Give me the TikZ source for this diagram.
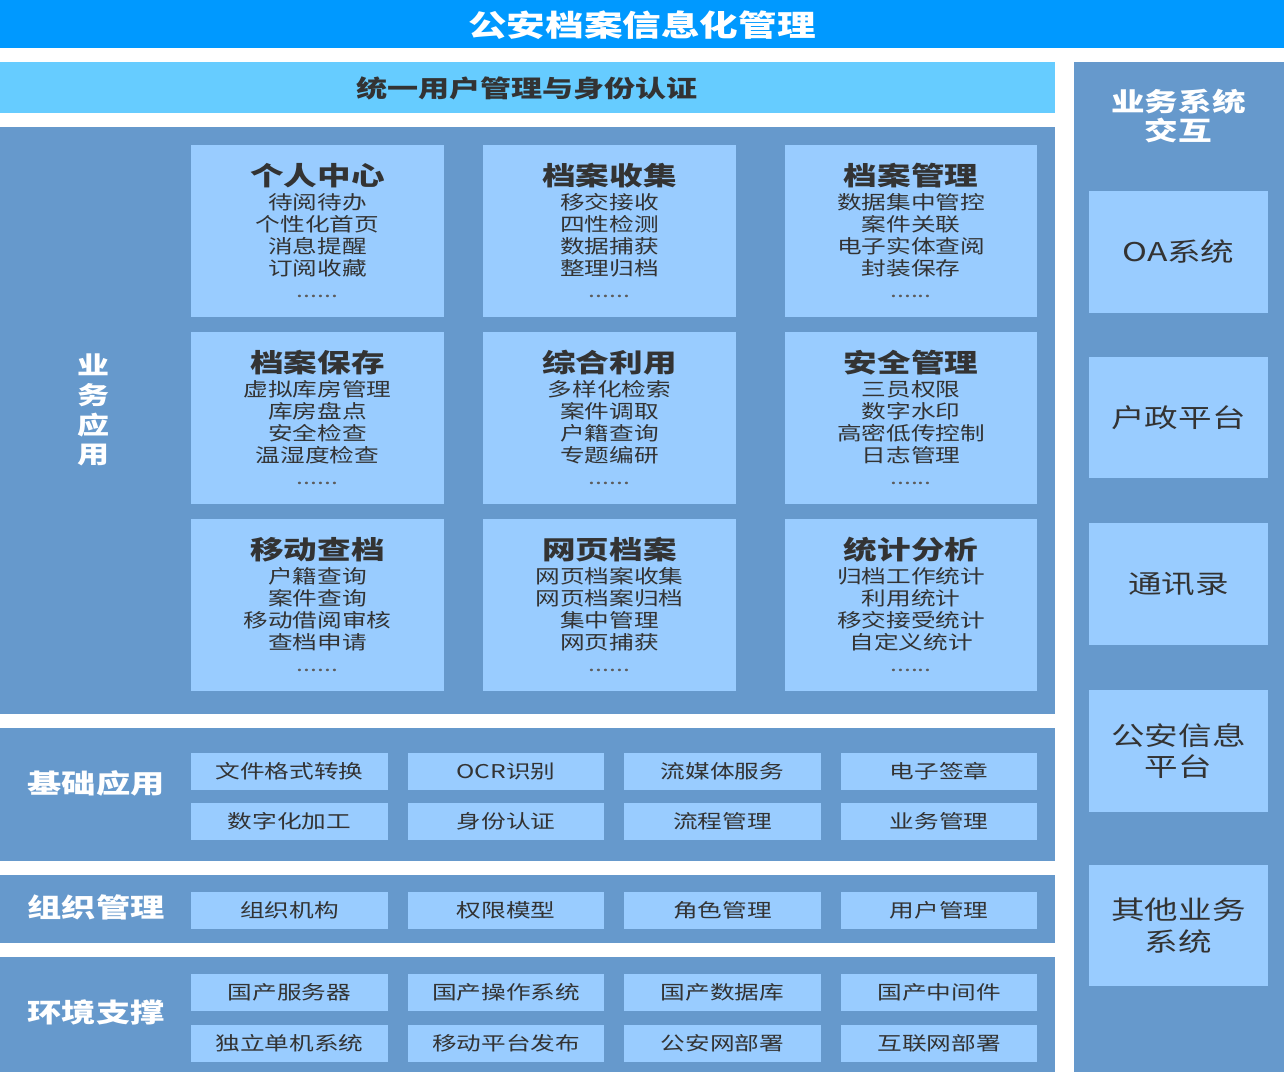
\documentclass[tikz,border=0pt]{standalone}
\usepackage{fontspec}
\setmainfont[FakeStretch=1.3]{Noto Sans CJK SC}
\usetikzlibrary{positioning}

\definecolor{topblue}{HTML}{0099FF}
\definecolor{bandblue}{HTML}{66CCFF}
\definecolor{panelblue}{HTML}{6699CC}
\definecolor{cardblue}{HTML}{99CCFF}
\definecolor{inkgray}{HTML}{333333}

\newcommand{\headfont}{\fontsize{16.9pt}{18pt}\bfseries\selectfont}
\newcommand{\bandfont}{\fontsize{13.6pt}{15pt}\bfseries\selectfont}
\newcommand{\cardtitlefont}{\fontsize{14.7pt}{16pt}\bfseries\selectfont}
\newcommand{\itemfont}{\fontsize{10.8pt}{12.47pt}\selectfont}
\newcommand{\sidefont}{\fontsize{14.7pt}{18pt}\selectfont}
\newcommand{\labelfont}{\fontsize{15pt}{16.5pt}\bfseries\selectfont}

\tikzset{
  card/.style={fill=cardblue, minimum width=5.06cm, minimum height=3.44cm, inner sep=0pt},
  cardhead/.style={text=inkgray, font=\cardtitlefont, inner sep=0pt},
  carditems/.style={text=inkgray, font=\itemfont, align=center, inner sep=0pt},
  carddots/.style={text=inkgray!80, font=\itemfont, inner sep=0pt},
  basebox/.style={fill=cardblue, minimum width=3.94cm, minimum height=0.74cm, inner sep=0pt, text=inkgray, font=\itemfont},
  sidebox/.style={fill=cardblue, minimum width=3.58cm, minimum height=2.43cm, inner sep=0pt, text=inkgray, font=\sidefont, align=center},
  layerlabel/.style={text=white, font=\labelfont, align=center, inner sep=0pt}
}

\begin{document}
\begin{tikzpicture}[x=0.02cm, y=-0.02cm]

\useasboundingbox (0,0) rectangle (1284,1072);
\fill[white] (0,0) rectangle (1284,1072);

% top bar and user band
\fill[topblue] (0,0) rectangle (1284,48);
\node (title) at (642,25) [text=white, font=\headfont] {公安档案信息化管理};
\fill[bandblue] (0,62) rectangle (1055,113);
\node (auth) at (527,88) [text=inkgray, font=\bandfont] {统一用户管理与身份认证};

% layers
\fill[panelblue] (0,127) rectangle (1055,714);
\fill[panelblue] (0,728) rectangle (1055,861);
\fill[panelblue] (0,875) rectangle (1055,943);
\fill[panelblue] (0,957) rectangle (1055,1072);
\fill[panelblue] (1074,62) rectangle (1284,1072);

\node (yewu) at (93,410) [layerlabel, font=\fontsize{14pt}{17pt}\bfseries\selectfont] {业\\务\\应\\用};
\node (jichu) at (96,783) [layerlabel] {基础应用};
\node (zuzhi) at (96,907) [layerlabel] {组织管理};
\node (huanjing) at (96,1012) [layerlabel] {环境支撑};

% business cards, row 1
\node (geren) at (317.5,231) [card] {};
\node (gerenT) at (317.5,176) [cardhead] {个人中心};
\node (gerenI) at (317.5,235) [carditems] {待阅待办\\个性化首页\\消息提醒\\订阅收藏};
\node (gerenD) at (317.5,296) [carddots] {......};

\node (shouji) at (609.5,231) [card] {};
\node (shoujiT) at (609.5,176) [cardhead] {档案收集};
\node (shoujiI) at (609.5,235) [carditems] {移交接收\\四性检测\\数据捕获\\整理归档};
\node (shoujiD) at (609.5,296) [carddots] {......};

\node (guanli) at (911,231) [card] {};
\node (guanliT) at (911,176) [cardhead] {档案管理};
\node (guanliI) at (911,235) [carditems] {数据集中管控\\案件关联\\电子实体查阅\\封装保存};
\node (guanliD) at (911,296) [carddots] {......};

% business cards, row 2
\node (baocun) at (317.5,418) [card] {};
\node (baocunT) at (317.5,363) [cardhead] {档案保存};
\node (baocunI) at (317.5,422) [carditems] {虚拟库房管理\\库房盘点\\安全检查\\温湿度检查};
\node (baocunD) at (317.5,483) [carddots] {......};

\node (liyong) at (609.5,418) [card] {};
\node (liyongT) at (609.5,363) [cardhead] {综合利用};
\node (liyongI) at (609.5,422) [carditems] {多样化检索\\案件调取\\户籍查询\\专题编研};
\node (liyongD) at (609.5,483) [carddots] {......};

\node (anquan) at (911,418) [card] {};
\node (anquanT) at (911,363) [cardhead] {安全管理};
\node (anquanI) at (911,422) [carditems] {三员权限\\数字水印\\高密低传控制\\日志管理};
\node (anquanD) at (911,483) [carddots] {......};

% business cards, row 3
\node (yidong) at (317.5,605) [card] {};
\node (yidongT) at (317.5,550) [cardhead] {移动查档};
\node (yidongI) at (317.5,609) [carditems] {户籍查询\\案件查询\\移动借阅审核\\查档申请};
\node (yidongD) at (317.5,670) [carddots] {......};

\node (wangye) at (609.5,605) [card] {};
\node (wangyeT) at (609.5,550) [cardhead] {网页档案};
\node (wangyeI) at (609.5,609) [carditems] {网页档案收集\\网页档案归档\\集中管理\\网页捕获};
\node (wangyeD) at (609.5,670) [carddots] {......};

\node (tongji) at (911,605) [card] {};
\node (tongjiT) at (911,550) [cardhead] {统计分析};
\node (tongjiI) at (911,609) [carditems] {归档工作统计\\利用统计\\移交接受统计\\自定义统计};
\node (tongjiD) at (911,670) [carddots] {......};

% base applications
\node (geshi) at (289.5,771) [basebox] {文件格式转换};
\node (ocr) at (506,771) [basebox] {OCR识别};
\node (liumeiti) at (722.5,771) [basebox] {流媒体服务};
\node (qianzhang) at (939,771) [basebox] {电子签章};
\node (shuzihua) at (289.5,821.5) [basebox] {数字化加工};
\node (shenfen) at (506,821.5) [basebox] {身份认证};
\node (liucheng) at (722.5,821.5) [basebox] {流程管理};
\node (yewuguanli) at (939,821.5) [basebox] {业务管理};

% organisation
\node (jigou) at (289.5,910) [basebox] {组织机构};
\node (quanxian) at (506,910) [basebox] {权限模型};
\node (juese) at (722.5,910) [basebox] {角色管理};
\node (yonghu) at (939,910) [basebox] {用户管理};

% environment
\node (fuwuqi) at (289.5,992.5) [basebox] {国产服务器};
\node (caozuo) at (506,992.5) [basebox] {国产操作系统};
\node (shujuku) at (722.5,992.5) [basebox] {国产数据库};
\node (zhongjian) at (939,992.5) [basebox] {国产中间件};
\node (danji) at (289.5,1043.5) [basebox] {独立单机系统};
\node (pingtai) at (506,1043.5) [basebox] {移动平台发布};
\node (gonganwang) at (722.5,1043.5) [basebox] {公安网部署};
\node (hulianwang) at (939,1043.5) [basebox] {互联网部署};

% side column
\node (jiaohu) at (1178.5,116) [layerlabel, font=\fontsize{14.7pt}{16.4pt}\bfseries\selectfont] {业务系统\\交互};
\node (oa) at (1178.5,252) [sidebox] {OA系统};
\node (huzheng) at (1178.5,417.5) [sidebox] {户政平台};
\node (tongxun) at (1178.5,584) [sidebox] {通讯录};
\node (xinxi) at (1178.5,751) [sidebox] {公安信息\\平台};
\node (qita) at (1178.5,925.5) [sidebox] {其他业务\\系统};

\end{tikzpicture}
\end{document}
